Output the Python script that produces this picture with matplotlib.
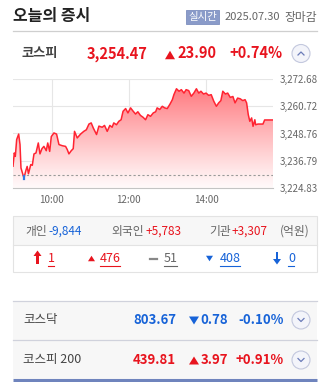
import numpy as np
import matplotlib
matplotlib.use("Agg")
import matplotlib.pyplot as plt
from matplotlib.patches import Rectangle, Circle, Polygon, FancyBboxPatch

plt.rcParams['font.family'] = ['Noto Sans CJK KR', 'DejaVu Sans']

# ---- data ----
# minutes after 09:00, KOSPI intraday value
t_min = [0, 2, 3.6, 5.7, 8.8, 10.9, 12.4, 15, 17, 20, 22, 24, 27.6, 30, 32.6, 35.7,
         39.3, 41.9, 45, 48, 51.7, 54, 57, 59.5, 63.6, 67.7, 71.4, 76.5, 81.7, 84.3,
         86.9, 90.5, 93.6, 95.6, 99.8, 105, 110, 114, 118, 121.5, 124.7, 129.8, 133.5,
         138.6, 142.2, 146.4, 150.5, 154, 156.6, 160.8, 164.4, 168, 171, 175, 178.6,
         182.7, 186.8, 190.4, 194, 198, 202, 206, 209.6, 213.7, 218, 221.6, 224, 228,
         232, 235.6, 239.7, 244, 247.6, 250, 254, 258, 261.6, 265.7, 269, 273, 277,
         281, 285, 288.6, 292, 296, 300, 304, 308, 312, 316, 319.6, 323, 326, 330,
         333.6, 337.6, 341.7, 345, 349, 353, 357, 360.6, 363, 365.6, 368, 370.8, 373,
         375.8, 377, 380.6, 388.4, 391, 404]
kospi = [3234.4, 3240.2, 3238.7, 3246.1, 3248.5, 3243.9, 3233.6, 3231.1, 3229.2,
         3232.5, 3234.3, 3231.1, 3235.1, 3234.8, 3239.8, 3240.2, 3244.6, 3239.8,
         3242.1, 3243.1, 3241.2, 3244.6, 3240.9, 3247.4, 3249.0, 3248.5, 3243.9,
         3243.4, 3243.1, 3241.7, 3239.8, 3241.2, 3242.1, 3249.7, 3246.8, 3248.5,
         3249.7, 3250.4, 3252.9, 3253.4, 3251.2, 3248.3, 3252.0, 3251.5, 3252.3,
         3249.7, 3252.3, 3251.5, 3253.4, 3252.6, 3254.1, 3254.8, 3258.5, 3259.7,
         3257.8, 3260.0, 3258.5, 3257.3, 3258.3, 3256.7, 3255.9, 3254.8, 3257.0,
         3256.3, 3257.8, 3258.3, 3260.0, 3259.3, 3260.7, 3260.0, 3259.7, 3261.7,
         3263.6, 3265.8, 3268.4, 3267.3, 3268.0, 3266.5, 3268.0, 3267.6, 3265.1,
         3266.5, 3268.4, 3266.5, 3267.3, 3266.1, 3266.5, 3265.5, 3265.8, 3262.9,
         3260.7, 3262.2, 3263.2, 3267.3, 3266.1, 3266.5, 3264.6, 3265.0, 3262.2,
         3264.3, 3264.0, 3263.2, 3263.6, 3262.2, 3257.0, 3254.1, 3255.6, 3251.9,
         3254.8, 3252.6, 3252.9, 3252.9, 3254.7, 3254.7]
prev_close = 3230.57
y_ticks = [3224.83, 3236.79, 3248.76, 3260.72, 3272.68]
x_ticks = [60, 180, 300]
x_labels = ["10:00", "12:00", "14:00"]

investors = [("개인", "-9,844"), ("외국인", "+5,783"), ("기관", "+3,307")]
counts = ["1", "476", "51", "408", "0"]
sub_names = ["코스닥", "코스피 200"]
sub_values = ["803.67", "439.81"]
sub_changes = ["0.78", "3.97"]
sub_pcts = ["-0.10%", "+0.91%"]

RED = "#e8141e"
BLUE = "#1763d8"
GRAY = "#666666"
W, H = 328, 382

fig = plt.figure(figsize=(W / 100, H / 100), dpi=100)
fig.patch.set_facecolor("white")

# pixel-space overlay for all the widget furniture
bg = fig.add_axes([0, 0, 1, 1])
bg.set_xlim(0, W)
bg.set_ylim(H, 0)
bg.axis("off")


def tri(x, y, up, col, w=10, h=8.5):
    # small filled triangle, (x, y) = left edge / vertical centre
    if up:
        pts = [[x, y + h / 2], [x + w / 2, y - h / 2], [x + w, y + h / 2]]
    else:
        pts = [[x, y - h / 2], [x + w / 2, y + h / 2], [x + w, y - h / 2]]
    bg.add_patch(Polygon(pts, fc=col, ec="none"))


def button(x, y, up):
    bg.add_patch(Circle((x, y), 9, fc="#f3f4fa", ec="#c3c8de", lw=0.8))
    d = -1.5 if up else 1.5
    bg.plot([x - 3, x, x + 3], [y - d, y + d, y - d], color="#6a7bb8", lw=0.9)


# header
bg.text(13, 16.5, "오늘의 증시", fontsize=11.5, fontweight="bold", color="#222222", va="center")
bg.add_patch(FancyBboxPatch((186, 10), 33, 14, boxstyle="square,pad=0",
                            fc="#8a9bc9", ec="#7d8ebf", lw=0.6))
bg.text(202.5, 17.3, "실시간", fontsize=7.5, color="white", ha="center", va="center")
bg.text(225, 17, "2025.07.30", fontsize=8, color=GRAY, va="center")
bg.text(284, 17, "장마감", fontsize=8.5, color=GRAY, va="center")
bg.plot([13, 317], [31, 31], color="#cfcfcf", lw=0.9)

# KOSPI row
bg.text(22, 53.5, "코스피", fontsize=9.5, fontweight="bold", color="#444444", va="center")
bg.text(87, 53.5, "3,254.47", fontsize=10.5, fontweight="bold", color=RED, va="center")
tri(165, 55, True, RED)
bg.text(177, 53.5, "23.90", fontsize=10.5, fontweight="bold", color=RED, va="center")
bg.text(229, 53.5, "+0.74%", fontsize=10.5, fontweight="bold", color=RED, va="center")
button(301, 53.5, True)

# ---- chart ----
ax = fig.add_axes([13 / W, 1 - 188 / H, 260 / W, 109 / H])
ax.set_xlim(0, 404)
ax.set_ylim(y_ticks[0], y_ticks[-1])
ax.patch.set_alpha(0)

# gradient fill under the line
t = np.array(t_min)
v = np.array(kospi)
grad = np.linspace(0, 1, 256).reshape(-1, 1)
top = np.array([255, 118, 124]) / 255
bot = np.array([255, 250, 250]) / 255
rgb = bot + (top - bot) * grad[..., None] ** 1.1
img = ax.imshow(rgb, extent=[0, 404, y_ticks[0], 3270], origin="lower",
                aspect="auto", zorder=1)
verts = np.vstack([np.column_stack([t, v]), [[t[-1], y_ticks[0]], [t[0], y_ticks[0]]]])
poly = Polygon(verts, closed=True, fc="none", ec="none", transform=ax.transData)
ax.add_patch(poly)
img.set_clip_path(poly)

ax.plot(t, v, color="#ff2432", lw=1.1, zorder=3)
ax.axhline(prev_close, color="#9a9a9a", lw=0.8, ls=(0, (2, 2)), zorder=2)
ax.plot([17, 17], [3228.6, 3230.0], color="#2f7be6", lw=1.6, zorder=4)

ax.set_yticks(y_ticks)
ax.set_yticklabels([f"{y:,.2f}" for y in y_ticks])
ax.yaxis.tick_right()
ax.set_xticks(x_ticks)
ax.set_xticklabels(x_labels)
ax.tick_params(axis="y", length=0, pad=5, labelsize=7, labelcolor=GRAY)
ax.tick_params(axis="x", direction="in", length=3, color="#bbbbbb", pad=5,
               labelsize=7, labelcolor=GRAY)
ax.grid(True, color="#e6e6e6", lw=0.8, zorder=0)
for s in ["top", "left", "right"]:
    ax.spines[s].set_visible(False)
ax.spines["bottom"].set_color("#c4c4c4")
ax.set_axisbelow(True)

# ---- investor box ----
bg.add_patch(Rectangle((13, 216), 304, 28.5, fc="#f7f7f7", ec="none"))
bg.add_patch(Rectangle((13, 216), 304, 56, fc="none", ec="#e3e3e3", lw=0.8))
bg.plot([13, 317], [244.5, 244.5], color="#e3e3e3", lw=0.8)

inv_x = [(25, 48), (111, 146), (209, 232)]
for (name, val), (xn, xv) in zip(investors, inv_x):
    bg.text(xn, 231, name, fontsize=8.5, color=GRAY, va="center")
    bg.text(xv, 231, val, fontsize=8.5, color=BLUE if val.startswith("-") else RED, va="center")
bg.text(280, 231, "(억원)", fontsize=8.5, color=GRAY, va="center")

# counts row: limit up, up, flat, down, limit down
cnt_x = [48, 100, 164, 220, 288]
cnt_w = [6, 20, 13, 20, 6]
cnt_c = [RED, RED, GRAY, BLUE, BLUE]
for c, x, w, col in zip(counts, cnt_x, cnt_w, cnt_c):
    bg.text(x, 258.5, c, fontsize=9, color=col, va="center")
    bg.plot([x, x + w], [266, 266], color=col, lw=0.8)
# markers
bg.add_patch(Polygon([[33.5, 256], [37.5, 250.5], [41.5, 256]], fc=RED, ec="none"))
bg.add_patch(Rectangle((36.3, 255.5), 2.4, 8, fc=RED, ec="none"))
tri(88, 258.5, True, RED, w=7, h=5.5)
bg.plot([150, 157], [258.5, 258.5], color="#888888", lw=1.6)
tri(206, 258.5, False, BLUE, w=7, h=5.5)
bg.add_patch(Rectangle((275.8, 252), 2.4, 8, fc=BLUE, ec="none"))
bg.add_patch(Polygon([[273, 259], [277, 264.5], [281, 259]], fc=BLUE, ec="none"))

# ---- sub index rows ----
bg.add_patch(Rectangle((13, 301), 304, 78, fc="#f7f7f7", ec="none"))
bg.plot([13, 317], [301, 301], color="#d0d2dc", lw=0.9)
bg.plot([13, 317], [340, 340], color="#d0d2dc", lw=0.9)
bg.plot([13, 317], [380, 380], color="#6f84bd", lw=2.2, solid_capstyle="butt")
for i in range(len(sub_names)):
    y = 320 + 40 * i
    down = sub_pcts[i].startswith("-")
    col = BLUE if down else RED
    bg.text(23, y, sub_names[i], fontsize=9, color="#444444", va="center")
    bg.text(176, y, sub_values[i], fontsize=9.5, fontweight="bold", color=col,
            va="center", ha="right")
    tri(189, y + 0.5, not down, col, w=10, h=8)
    bg.text(228, y, sub_changes[i], fontsize=9.5, fontweight="bold", color=col,
            va="center", ha="right")
    bg.text(284, y, sub_pcts[i], fontsize=9.5, fontweight="bold", color=col,
            va="center", ha="right")
    button(301, y, False)

fig.savefig("out.png", dpi=100)
